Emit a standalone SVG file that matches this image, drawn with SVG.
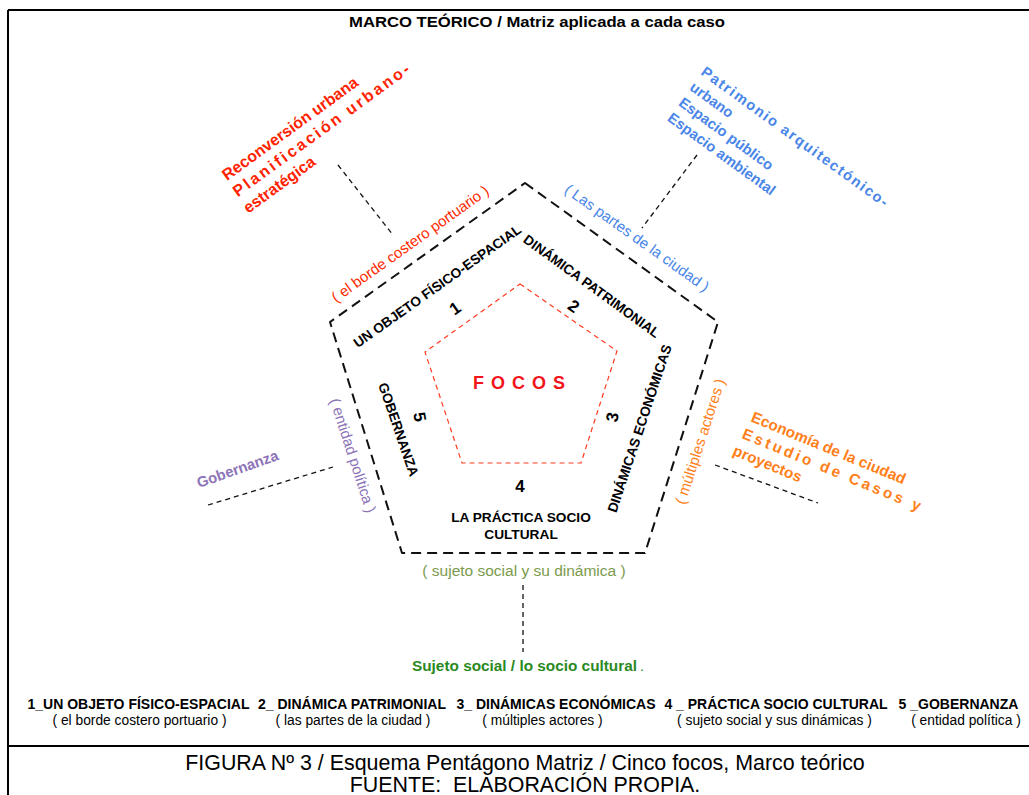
<svg xmlns="http://www.w3.org/2000/svg" width="1029" height="795" viewBox="0 0 1029 795">
<style>
text{font-family:"Liberation Sans",Arial,sans-serif}
.b{font-weight:bold}
.lead{fill:none;stroke:#111;stroke-width:1.3;stroke-dasharray:5 4}
.edge{font-size:13.7px;font-weight:bold;fill:#000}
.num{font-size:17px;font-weight:bold;fill:#000;text-anchor:middle}
.par{font-size:15px}
.lg{font-size:14px;font-weight:bold;text-anchor:middle;fill:#000}
.ls{font-size:13.8px;text-anchor:middle;fill:#000}
</style>
<rect width="1029" height="795" fill="#fff"/>
<g id="frame" stroke="#000" stroke-width="2" fill="none">
<line x1="8" y1="10" x2="1029" y2="10"/>
<line x1="8" y1="10" x2="8" y2="795"/>
<line x1="8" y1="746" x2="1029" y2="746"/>
</g>
<text x="537" y="27" class="b" font-size="15" text-anchor="middle" textLength="376" lengthAdjust="spacingAndGlyphs">MARCO TEÓRICO / Matriz aplicada a cada caso</text>

<g id="connectors">
<line class="lead" x1="338" y1="165" x2="393" y2="235"/>
<line class="lead" x1="697" y1="155" x2="642" y2="228"/>
<line class="lead" x1="208" y1="505" x2="333" y2="467"/>
<line class="lead" x1="715" y1="465" x2="818" y2="503"/>
<line class="lead" x1="523" y1="585" x2="523" y2="652"/>
</g>

<g id="outer-pentagon">
<polygon points="525,183 718,322 645,553 402,553 330,322" fill="none" stroke="#111" stroke-width="2" stroke-dasharray="10 6" stroke-linejoin="round"/>
<text class="edge" text-anchor="middle" transform="translate(440,290) rotate(-35.3)">UN OBJETO FÍSICO-ESPACIAL</text>
<text class="edge" text-anchor="middle" transform="translate(589,290) rotate(36)">DINÁMICA PATRIMONIAL</text>
<text class="edge" text-anchor="middle" transform="translate(644,430) rotate(-71.5)">DINÁMICAS ECONÓMICAS</text>
<text class="edge" text-anchor="middle" transform="translate(394,431) rotate(71)">GOBERNANZA</text>
<text class="edge" text-anchor="middle" x="521" y="522">LA PRÁCTICA SOCIO</text>
<text class="edge" text-anchor="middle" x="521" y="539">CULTURAL</text>
<text class="num" transform="translate(458.5,313) rotate(-35)">1</text>
<text class="num" transform="translate(570.5,311) rotate(35)">2</text>
<text class="num" transform="translate(618,418) rotate(-80)">3</text>
<text class="num" transform="translate(414,418) rotate(80)">5</text>
<text class="num" x="520" y="492">4</text>
</g>

<g id="focos">
<polygon points="520,284 617,351 581,463 462,463 425,352" fill="none" stroke="#ff3b1f" stroke-width="1.2" stroke-dasharray="5 4"/>
<text x="519" y="389" font-size="18" class="b" fill="#f2141a" text-anchor="middle" textLength="92" lengthAdjust="spacing">FOCOS</text>
</g>

<g id="label-1">
<text class="par" fill="#ff2a00" text-anchor="middle" transform="translate(413,248) rotate(-35.5)">( el borde costero portuario )</text>
<g transform="translate(227,181) rotate(-36)" fill="#ff2200" class="b" font-size="16">
<text x="0" y="0">Reconversión urbana</text>
<text x="-1" y="19.5" textLength="214" lengthAdjust="spacing">Planificación urbano-</text>
<text x="-2" y="39">estratégica</text>
</g>
</g>

<g id="label-2">
<text class="par" fill="#4a86e8" text-anchor="middle" transform="translate(634,242) rotate(35.5)">( Las partes de la ciudad )</text>
<g transform="translate(700,74) rotate(36)" fill="#4a86e8" class="b" font-size="14.7">
<text x="0" y="0" textLength="227" lengthAdjust="spacing">Patrimonio  arquitectónico-</text>
<text x="0" y="19">urbano</text>
<text x="0" y="38">Espacio público</text>
<text x="0" y="57">Espacio ambiental</text>
</g>
</g>

<g id="label-3">
<text class="par" fill="#ff7f1a" text-anchor="middle" transform="translate(705,443) rotate(-72)">( múltiples actores )</text>
<g transform="translate(750,421) rotate(22.5)" fill="#ff7f1a" class="b" font-size="15.3">
<text x="0" y="0">Economía de la ciudad</text>
<text x="-2" y="19" textLength="192" lengthAdjust="spacing">Estudio  de  Casos  y</text>
<text x="-4" y="38">proyectos</text>
</g>
</g>

<g id="label-4">
<text fill="#7b9a4c" font-size="15.5" text-anchor="middle" x="524" y="576">( sujeto social y su dinámica )</text>
<text x="412" y="671" class="b" font-size="14.5" fill="#2a8a1e" textLength="225" lengthAdjust="spacingAndGlyphs">Sujeto social / lo socio cultural</text>
<text x="640" y="671" font-size="14" fill="#2a8a1e">.</text>
</g>

<g id="label-5">
<text class="par" fill="#8c73b8" text-anchor="middle" transform="translate(348,457) rotate(72)">( entidad política )</text>
<text class="b" font-size="14.8" fill="#8c73b8" transform="translate(199,488) rotate(-19.5)">Gobernanza</text>
</g>

<g id="legend">
<text class="lg" x="138.5" y="709">1_UN OBJETO FÍSICO-ESPACIAL</text>
<text class="ls" x="139.5" y="725">( el borde costero portuario )</text>
<text class="lg" x="352" y="709">2_ DINÁMICA PATRIMONIAL</text>
<text class="ls" x="353" y="725">( las partes de la ciudad )</text>
<text class="lg" x="556" y="709">3_ DINÁMICAS ECONÓMICAS</text>
<text class="ls" x="542.5" y="725">( múltiples actores )</text>
<text class="lg" x="776" y="709">4 _ PRÁCTICA SOCIO CULTURAL</text>
<text class="ls" x="774.5" y="725">( sujeto social y sus dinámicas )</text>
<text class="lg" x="958.5" y="709">5 _GOBERNANZA</text>
<text class="ls" x="966" y="725">( entidad política )</text>
</g>

<g id="caption">
<text x="525" y="770" font-size="21.4" text-anchor="middle">FIGURA Nº 3 / Esquema Pentágono Matriz / Cinco focos, Marco teórico</text>
<text x="525" y="792" font-size="21.4" text-anchor="middle" xml:space="preserve">FUENTE:  ELABORACIÓN PROPIA.</text>
</g>
</svg>
